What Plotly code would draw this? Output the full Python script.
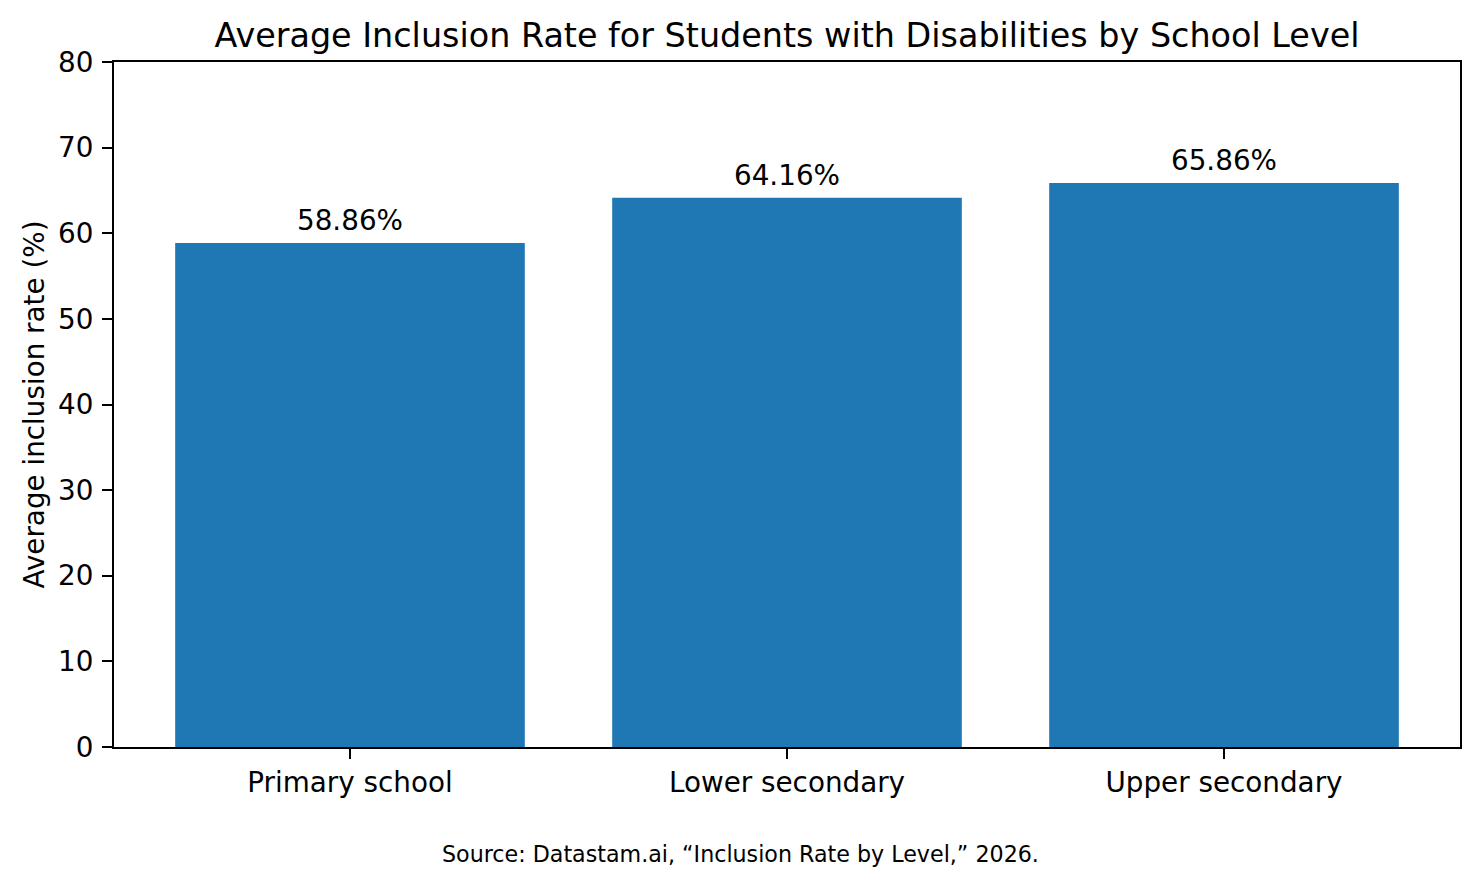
import plotly.graph_objects as go

# Data
levels = ["Primary school", "Lower secondary", "Upper secondary"]
inclusion_rate = [58.86, 64.16, 65.86]
rate_labels = [f"{v:.2f}%" for v in inclusion_rate]

# the page body puts the figure 8px in from the top-left corner
OFF = 8
W, H = 1480 - OFF, 885 - OFF
PLOT_L, PLOT_R, PLOT_T, PLOT_B = 114, 1460, 62, 747  # in page pixels
ML, MT = PLOT_L - OFF, PLOT_T - OFF
MR, MB = W + OFF - PLOT_R, H + OFF - PLOT_B
FONT = "DejaVu Sans"
FS = 27.8

fig = go.Figure()
fig.add_trace(
    go.Bar(
        x=levels,
        y=inclusion_rate,
        width=0.8,
        marker=dict(color="#1f77b4", line=dict(width=0)),
        hoverinfo="x+y",
    )
)

# Value labels above bars
for lvl, v, lab in zip(levels, inclusion_rate, rate_labels):
    fig.add_annotation(
        x=lvl, y=v, text=lab, showarrow=False,
        yanchor="bottom", yshift=4,
        font=dict(family=FONT, size=FS, color="black"),
    )

# Source note, centred on the figure
fig.add_annotation(
    xref="paper", yref="paper",
    x=(740 - PLOT_L) / (PLOT_R - PLOT_L), y=-(854 - PLOT_B) / (PLOT_B - PLOT_T),
    text="Source: Datastam.ai, \u201cInclusion Rate by Level,\u201d 2026.",
    showarrow=False, xanchor="center", yanchor="middle",
    font=dict(family=FONT, size=22.2, color="black"),
)

fig.update_xaxes(
    range=[-0.54, 2.54],
    showline=True, mirror=True, linecolor="black", linewidth=2,
    ticks="outside", ticklen=10, tickwidth=2, tickcolor="black",
    showgrid=False, zeroline=False,
    tickfont=dict(family=FONT, size=FS, color="black"),
    ticklabelstandoff=0,
)
fig.update_yaxes(
    range=[0, 80], dtick=10,
    showline=True, mirror=True, linecolor="black", linewidth=2,
    ticks="outside", ticklen=10, tickwidth=2, tickcolor="black",
    showgrid=False, zeroline=False,
    tickfont=dict(family=FONT, size=FS, color="black"),
    ticklabelstandoff=3,
    title=dict(text="Average inclusion rate (%)", standoff=5,
               font=dict(family=FONT, size=FS, color="black")),
)

fig.update_layout(
    title=dict(
        text="Average Inclusion Rate for Students with Disabilities by School Level",
        x=((PLOT_L + PLOT_R) / 2 - OFF) / W, xanchor="center",
        y=1 - (35 - OFF) / H, yanchor="middle",
        font=dict(family=FONT, size=33.4, color="black"),
    ),
    width=W, height=H,
    margin=dict(l=ML, r=MR, t=MT, b=MB),
    plot_bgcolor="white", paper_bgcolor="white",
    showlegend=False,
    font=dict(family=FONT, color="black"),
)

fig.write_html("out.html")
